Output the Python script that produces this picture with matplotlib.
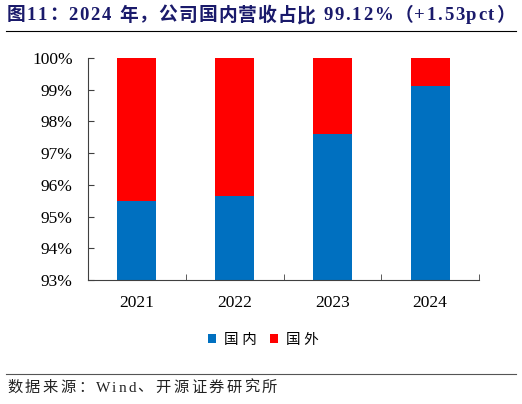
import numpy as np
import matplotlib.pyplot as plt
from matplotlib.lines import Line2D

years = ['2021', '2022', '2023', '2024']
domestic = [95.50, 95.66, 97.59, 99.12]
overseas = [100 - d for d in domestic]

title = '图11：2024 年，公司国内营收占比 99.12%（+1.53pct）'
source = '数据来源：Wind、开源证券研究所'

blue = '#0070C0'
red = '#FF0000'
fam = ['Liberation Serif', 'Noto Sans CJK SC']
plt.rcParams['font.family'] = fam

W, H = 522, 404
fig = plt.figure(figsize=(W/100, H/100), dpi=100)
ax = fig.add_axes([88/W, 1-280/H, (479-88)/W, (280-58)/H])

x = np.arange(len(years))
ax.bar(x, domestic, width=0.4, color=blue, label='国 内')
ax.bar(x, overseas, width=0.4, bottom=domestic, color=red, label='国 外')

ax.set_ylim(93, 100)
ax.set_xlim(-0.5, 3.5)
ax.set_yticks(range(93, 101))
ax.set_yticklabels([f'{v}%' for v in range(93, 101)], fontsize=12.5)
ax.set_xticks(x)
ax.set_xticklabels(years, fontsize=12.5)
ax.set_xticks(np.arange(-0.5, 4, 1), minor=True)
ax.tick_params(axis='x', which='major', length=0, pad=11)
ax.tick_params(axis='x', which='minor', direction='in', length=4, color='#404040')
ax.tick_params(axis='y', direction='in', length=4, color='#404040', pad=11)
for s in ['top', 'right']:
    ax.spines[s].set_visible(False)
for s in ['left', 'bottom']:
    ax.spines[s].set_color('#404040')

ax.legend(loc='center', bbox_to_anchor=(263/W, 1-340/H), bbox_transform=fig.transFigure,
          ncol=2, frameon=False, handlelength=0.55, handleheight=0.55, handletextpad=0.55,
          columnspacing=0.9, prop={'family': fam, 'size': 10.5})


def spaced_text(x0, y0, s, gap_cjk, gap_lat, **kw):
    # draw char by char so there is some letter spacing, like the original
    r = fig.canvas.get_renderer()
    xp = x0
    for ch in s:
        t = fig.text(xp/W, 1-y0/H, ch, va='center', ha='left', **kw)
        bb = t.get_window_extent(renderer=r)
        xp += bb.width + (gap_cjk if ord(ch) > 0x2000 else gap_lat)


spaced_text(7, 16, title, 1.0, 1.7, fontsize=13.5, fontweight='bold', color='#1A1A6B', family=fam)
fig.add_artist(Line2D([6/W, 516/W], [1-31/H, 1-31/H], color='black', lw=0.8))
fig.add_artist(Line2D([6/W, 516/W], [1-374/H, 1-374/H], color='#555555', lw=0.8))
spaced_text(7, 388, source, 2.5, 2.0, fontsize=11, color='#222222', family=fam)

fig.savefig('out.png', dpi=100)
